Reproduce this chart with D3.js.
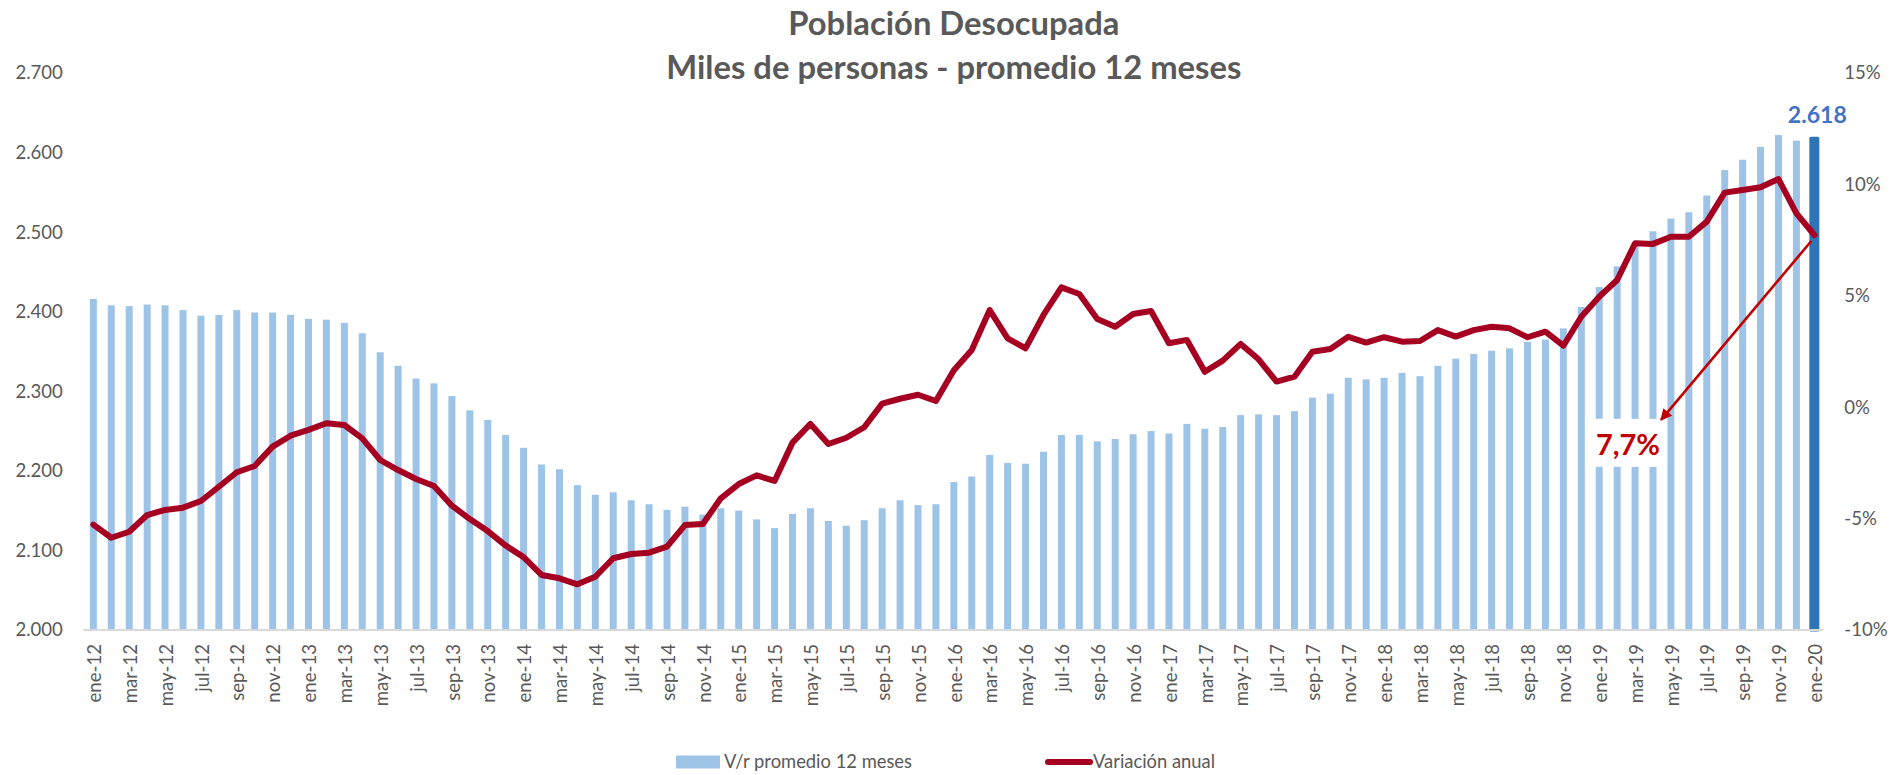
<!DOCTYPE html>
<html>
<head>
<meta charset="utf-8">
<script src="https://cdn.jsdelivr.net/npm/d3@7"></script>
<style>
  html, body { margin: 0; padding: 0; background: #ffffff; }
  svg { display: block; font-family: Lato, "Open Sans", sans-serif; }
</style>
</head>
<body>
<svg id="chart" width="1891" height="775"></svg>
<script>
// ---------------- data ----------------
const categories = [
  "ene-12","feb-12","mar-12","abr-12","may-12","jun-12","jul-12","ago-12","sep-12","oct-12","nov-12","dic-12",
  "ene-13","feb-13","mar-13","abr-13","may-13","jun-13","jul-13","ago-13","sep-13","oct-13","nov-13","dic-13",
  "ene-14","feb-14","mar-14","abr-14","may-14","jun-14","jul-14","ago-14","sep-14","oct-14","nov-14","dic-14",
  "ene-15","feb-15","mar-15","abr-15","may-15","jun-15","jul-15","ago-15","sep-15","oct-15","nov-15","dic-15",
  "ene-16","feb-16","mar-16","abr-16","may-16","jun-16","jul-16","ago-16","sep-16","oct-16","nov-16","dic-16",
  "ene-17","feb-17","mar-17","abr-17","may-17","jun-17","jul-17","ago-17","sep-17","oct-17","nov-17","dic-17",
  "ene-18","feb-18","mar-18","abr-18","may-18","jun-18","jul-18","ago-18","sep-18","oct-18","nov-18","dic-18",
  "ene-19","feb-19","mar-19","abr-19","may-19","jun-19","jul-19","ago-19","sep-19","oct-19","nov-19","dic-19",
  "ene-20"
];

// Población desocupada, miles de personas, promedio 12 meses
const desocupados = [
  2416, 2408, 2407, 2409, 2408, 2402, 2395, 2396, 2402, 2399, 2399, 2396,
  2391, 2390, 2386, 2373, 2349, 2332, 2316, 2310, 2294, 2276, 2264, 2245,
  2229, 2208, 2202, 2182, 2170, 2173, 2163, 2158, 2151, 2155, 2145, 2153,
  2150, 2139, 2128, 2146, 2153, 2137, 2131, 2138, 2153, 2163, 2157, 2158,
  2186, 2193, 2220, 2210, 2209, 2224, 2245, 2245, 2237, 2240, 2246, 2250,
  2247, 2259, 2253, 2255, 2270, 2271, 2270, 2275, 2292, 2297, 2317, 2315,
  2317, 2323, 2319, 2332, 2341, 2347, 2351, 2354, 2362, 2365, 2379, 2406,
  2431, 2457, 2482, 2501, 2517, 2525, 2546, 2578, 2591, 2607, 2622, 2615,
  2618
];

// Variación anual (%)
const variacion = [
  -5.27, -5.86, -5.59, -4.84, -4.61, -4.51, -4.21, -3.57, -2.92, -2.64, -1.77, -1.28,
  -1.02, -0.72, -0.80, -1.40, -2.37, -2.82, -3.22, -3.54, -4.42, -5.02, -5.56, -6.21,
  -6.73, -7.53, -7.68, -7.95, -7.61, -6.78, -6.59, -6.53, -6.26, -5.29, -5.24, -4.09,
  -3.45, -3.06, -3.31, -1.59, -0.75, -1.65, -1.37, -0.90, 0.16, 0.38, 0.56, 0.28,
  1.66, 2.57, 4.36, 3.09, 2.64, 4.14, 5.38, 5.08, 3.96, 3.61, 4.18, 4.32,
  2.87, 3.02, 1.59, 2.09, 2.84, 2.15, 1.15, 1.37, 2.49, 2.61, 3.16, 2.90,
  3.14, 2.94, 2.97, 3.46, 3.17, 3.46, 3.61, 3.54, 3.14, 3.39, 2.76, 4.06,
  4.96, 5.71, 7.36, 7.33, 7.65, 7.65, 8.33, 9.63, 9.75, 9.87, 10.24, 8.70,
  7.73
];

const leftTicks = [2000, 2100, 2200, 2300, 2400, 2500, 2600, 2700];
const rightTicks = [-10, -5, 0, 5, 10, 15];
const titleLines = ["Población Desocupada", "Miles de personas - promedio 12 meses"];
const legendLabels = ["V/r promedio 12 meses", "Variación anual"];
const lastValueLabel = "2.618";
const lastVarLabel = "7,7%";
const annotationCategory = "mar-19";
const annotationPct = -1.6;

// ---------------- layout ----------------
const svg = d3.select("#chart");
const plot = { left: 84.4, right: 1823.3, top: 73, bottom: 630 };
const textColor = "#595959";

const x = d3.scaleBand()
  .domain(categories)
  .range([plot.left, plot.right])
  .paddingInner(0.61)
  .paddingOuter(0.305);

const yL = d3.scaleLinear().domain([2000, 2700]).range([plot.bottom, plot.top]);
const yR = d3.scaleLinear().domain([-10, 15]).range([plot.bottom, plot.top]);

const esLocale = d3.formatLocale({ decimal: ",", thousands: ".", grouping: [3], currency: ["", ""] });
const fmtThousands = esLocale.format(",.0f");

// helper: scale font so text width matches a target
function fitWidth(sel, target) {
  const w = sel.node().getComputedTextLength();
  const fs = parseFloat(sel.attr("font-size"));
  sel.attr("font-size", (fs * target / w).toFixed(2));
  return sel;
}

// measure tick font size: "2.000" should be ~47.7px wide
const probe = svg.append("text").attr("font-size", 20).text(fmtThousands(2000));
const tickFont = 20 * 47.5 / probe.node().getComputedTextLength();
probe.remove();

// ---------------- bars ----------------
const data = categories.map((c, i) => ({ c, v: desocupados[i], p: variacion[i], last: i === categories.length - 1 }));

svg.append("g").selectAll("rect")
  .data(data)
  .join("rect")
  .attr("x", d => x(d.c))
  .attr("width", x.bandwidth())
  .attr("y", d => yL(d.v))
  .attr("height", d => yL(2000) - yL(d.v))
  .attr("fill", d => d.last ? "#2E75B6" : "#9DC3E6")
  .attr("stroke", d => d.last ? "#2E75B6" : "none")
  .attr("stroke-width", d => d.last ? 3 : 0)
  .attr("stroke-linejoin", "round");

// ---------------- axes ----------------
// bottom axis
const xAxis = d3.axisBottom(x)
  .tickValues(categories.filter((c, i) => i % 2 === 0))
  .tickSize(0)
  .tickPadding(0);
const gx = svg.append("g")
  .attr("transform", `translate(0,${plot.bottom})`)
  .call(xAxis);
gx.select(".domain")
  .attr("stroke", "#D9D9D9")
  .attr("stroke-width", 2)
  .attr("d", `M${plot.left - 1},0H${plot.right}`);
gx.selectAll(".tick text")
  .attr("font-family", "Lato, sans-serif")
  .attr("font-size", tickFont.toFixed(2))
  .attr("fill", textColor)
  .attr("text-anchor", "end")
  .attr("x", 0)
  .attr("y", 0)
  .attr("dy", "0.36em")
  .attr("transform", "translate(1,14) rotate(-90)");

// left axis
const gl = svg.append("g")
  .attr("transform", `translate(${plot.left},0)`)
  .call(d3.axisLeft(yL).tickValues(leftTicks).tickFormat(fmtThousands).tickSize(0).tickPadding(21.5));
gl.select(".domain").remove();
gl.selectAll(".tick text")
  .attr("font-family", "Lato, sans-serif")
  .attr("font-size", tickFont.toFixed(2))
  .attr("fill", textColor);

// right axis
const gr = svg.append("g")
  .attr("transform", `translate(${plot.right},0)`)
  .call(d3.axisRight(yR).tickValues(rightTicks).tickFormat(d => d + "%").tickSize(0).tickPadding(21));
gr.select(".domain").remove();
gr.selectAll(".tick text")
  .attr("font-family", "Lato, sans-serif")
  .attr("font-size", tickFont.toFixed(2))
  .attr("fill", textColor);

// ---------------- line ----------------
const line = d3.line()
  .x(d => x(d.c) + x.bandwidth() / 2)
  .y(d => yR(d.p));

svg.append("path")
  .datum(data)
  .attr("d", line)
  .attr("fill", "none")
  .attr("stroke", "#A50021")
  .attr("stroke-width", 6)
  .attr("stroke-linejoin", "round")
  .attr("stroke-linecap", "round");

// ---------------- annotations ----------------
const last = data[data.length - 1];
const lastCx = x(last.c) + x.bandwidth() / 2;

// value label above last bar
const vLab = svg.append("text")
  .attr("x", lastCx + 3)
  .attr("y", yL(last.v) - 15)
  .attr("text-anchor", "middle")
  .attr("font-weight", 700)
  .attr("font-size", 24)
  .attr("fill", "#4472C4")
  .text(lastValueLabel);
fitWidth(vLab, 59);

// label box for the annual variation
const annX = x(annotationCategory) + x.bandwidth() / 2 - 4;
const annY = yR(annotationPct);
const boxW = 72, boxH = 48;
svg.append("rect")
  .attr("x", annX - boxW / 2)
  .attr("y", annY - boxH / 2)
  .attr("width", boxW)
  .attr("height", boxH)
  .attr("fill", "#ffffff");
const pLab = svg.append("text")
  .attr("x", annX - boxW / 2 + 1)
  .attr("y", annY + 12)
  .attr("text-anchor", "start")
  .attr("font-weight", 700)
  .attr("font-size", 28)
  .attr("fill", "#C00000")
  .text(lastVarLabel);
fitWidth(pLab, 64);

// arrow
const defs = svg.append("defs");
defs.append("marker")
  .attr("id", "arrowHead")
  .attr("viewBox", "0 0 10 10")
  .attr("refX", 9)
  .attr("refY", 5)
  .attr("markerWidth", 5)
  .attr("markerHeight", 4.4)
  .attr("markerUnits", "strokeWidth")
  .attr("orient", "auto")
  .append("path")
  .attr("d", "M0,0L10,5L0,10z")
  .attr("fill", "#C00000");

svg.append("line")
  .attr("x1", lastCx - 3)
  .attr("y1", yR(last.p) + 6)
  .attr("x2", annX + boxW / 2 - 6)
  .attr("y2", annY - boxH / 2 + 1)
  .attr("stroke", "#C00000")
  .attr("stroke-width", 2.6)
  .attr("marker-end", "url(#arrowHead)");

// ---------------- title ----------------
const centerX = (plot.left + plot.right) / 2;
const t2 = svg.append("text")
  .attr("x", centerX)
  .attr("y", 79)
  .attr("text-anchor", "middle")
  .attr("font-weight", 700)
  .attr("font-size", 30)
  .attr("fill", textColor)
  .text(titleLines[1]);
fitWidth(t2, 575);
svg.append("text")
  .attr("x", centerX)
  .attr("y", 35)
  .attr("text-anchor", "middle")
  .attr("font-weight", 700)
  .attr("font-size", t2.attr("font-size"))
  .attr("fill", textColor)
  .text(titleLines[0]);

// ---------------- legend ----------------
const legY = 762;
const leg = svg.append("g");
leg.append("rect")
  .attr("x", 676).attr("y", legY - 6.5)
  .attr("width", 44).attr("height", 13)
  .attr("fill", "#9DC3E6");
const l1 = leg.append("text")
  .attr("x", 724).attr("y", legY)
  .attr("dy", "0.35em")
  .attr("font-size", 18)
  .attr("fill", textColor)
  .text(legendLabels[0]);
fitWidth(l1, 188);
leg.append("line")
  .attr("x1", 1048).attr("x2", 1090)
  .attr("y1", legY).attr("y2", legY)
  .attr("stroke", "#A50021")
  .attr("stroke-width", 6)
  .attr("stroke-linecap", "round");
leg.append("text")
  .attr("x", 1093).attr("y", legY)
  .attr("dy", "0.35em")
  .attr("font-size", l1.attr("font-size"))
  .attr("fill", textColor)
  .text(legendLabels[1]);
</script>
</body>
</html>
